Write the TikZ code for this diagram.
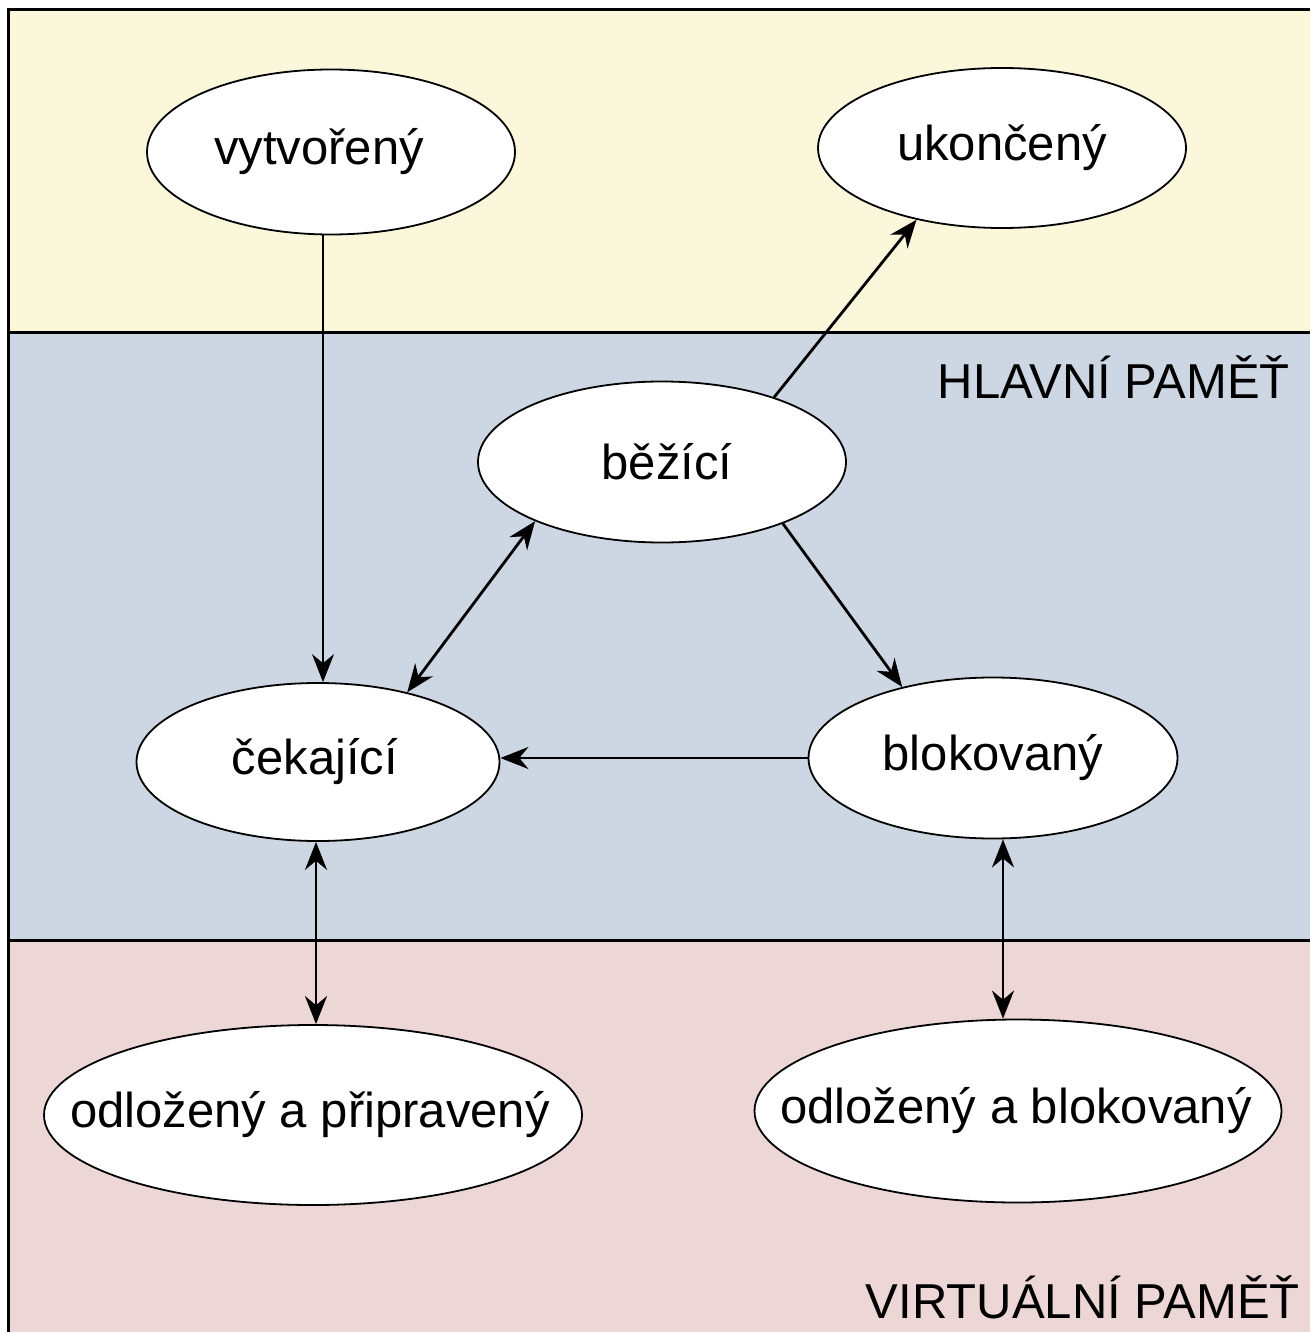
\documentclass[tikz,border=0pt]{standalone}
\usepackage{fontspec}
\setmainfont{Liberation Sans}
\usetikzlibrary{shapes.geometric,arrows.meta}
\definecolor{bandyellow}{RGB}{250,247,218}
\definecolor{bandblue}{RGB}{204,215,227}
\definecolor{bandpink}{RGB}{236,214,214}
\newcommand{\sttext}[2][0pt]{\makebox[0pt]{\kern#1#2}}
\tikzset{
  state/.style={ellipse, draw=black, line width=1.8pt, fill=white, inner sep=0pt,
    font=\fontsize{49}{58}\selectfont},
  arr/.style={line width=2.8pt, -{Stealth[length=28pt,width=22pt]}},
  darr/.style={line width=2.8pt, {Stealth[length=28pt,width=22pt]}-{Stealth[length=28pt,width=22pt]}},
  divider/.style={line width=3pt, black},
  zonelabel/.style={font=\fontsize{49}{58}\selectfont, inner sep=0pt}
}
\begin{document}
\begin{tikzpicture}[x=1pt,y=-1pt]
\useasboundingbox (0,0) rectangle (1310,1332);
% bands
\fill[bandyellow] (8,10) rectangle (1310,332);
\fill[bandblue] (8,332) rectangle (1310,940);
\fill[bandpink] (8,940) rectangle (1310,1332);
\draw[divider] (8,1332) -- (8,10) -- (1310,10);
\draw[divider] (8,332) -- (1310,332);
\draw[divider] (8,940) -- (1310,940);
% zone labels
\node[zonelabel, anchor=base east] (hlavni) at (1290,398) {HLAVNÍ PAMĚŤ};
\node[zonelabel, anchor=base east] (virtual) at (1300,1318) {VIRTUÁLNÍ PAMĚŤ};
% states
\node[state, minimum width=368pt, minimum height=165pt] (vyt) at (331,152) {\sttext[-24pt]{vytvořený}};
\node[state, minimum width=368pt, minimum height=160pt] (uko) at (1002,148) {\sttext{ukončený}};
\node[state, minimum width=368pt, minimum height=161pt] (bez) at (662,462) {\sttext[10pt]{běžící}};
\node[state, minimum width=363pt, minimum height=158pt] (cek) at (318,762) {\sttext[-6pt]{čekající}};
\node[state, minimum width=369pt, minimum height=161pt] (blo) at (993,758) {\sttext{blokovaný}};
\node[state, minimum width=538pt, minimum height=180pt] (odp) at (313,1115) {\sttext[-6pt]{odložený a připravený}};
\node[state, minimum width=527pt, minimum height=183pt] (odb) at (1018,1111) {\sttext[-4pt]{odložený a blokovaný}};
% guide coordinates for vertical connectors
\coordinate (xa) at (323,0);
\coordinate (xb) at (316,0);
\coordinate (xc) at (1003,0);
% connectors
\draw[arr, line width=2pt] (vyt.south -| xa) -- (cek.north -| xa);
\draw[arr] (bez.30) -- (uko.220);
\draw[darr] (bez.205) -- (cek.38);
\draw[arr] (bez.333) -- (blo.142);
\draw[arr] (blo.west) -- (cek.east |- blo.west);
\draw[darr] (cek.south -| xb) -- (odp.north -| xb);
\draw[darr] (blo.south -| xc) -- (odb.north -| xc);
\end{tikzpicture}
\end{document}
